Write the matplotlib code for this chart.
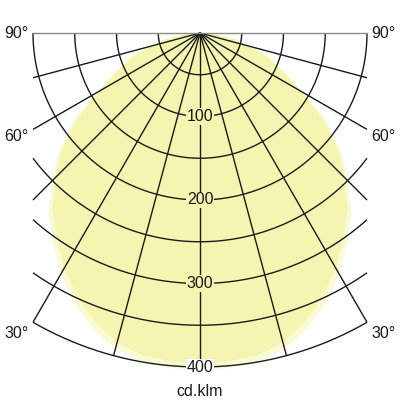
import numpy as np
import matplotlib
matplotlib.use("Agg")
import matplotlib.pyplot as plt

# Data (cd/klm vs angle from nadir, symmetric)
angles_deg = [0, 5, 10, 15, 20, 25, 30, 35, 40, 45, 50, 55, 60, 65, 70, 75, 80, 85, 90]
intensity = [395, 395, 392, 384, 368, 349, 325, 300, 275, 244, 215, 180, 140, 110, 88, 62, 40, 20, 0]
radial_ticks = [100, 200, 300, 400]
grid_radii = [50, 100, 150, 200, 250, 300, 350, 400]
ray_angles = list(range(-90, 91, 15))
angle_labels = [90, 60, 30]
unit_label = "cd.klm"

R_MAX = 400
X_LIM = 200  # half-width of the grid clip
FILL = "#f5f5b2"
HALO = "#fafad4"
LINE = "#1a1a1a"

plt.rcParams['font.family'] = ['Liberation Sans', 'DejaVu Sans']

fig = plt.figure(figsize=(4, 4), dpi=100)
ax = fig.add_axes([0, 0, 1, 1])
scale = 0.835  # px per unit
ax.set_xlim(-200 / scale, 200 / scale)
ax.set_ylim(-(400 - 33) / scale, 33 / scale)
ax.set_aspect('equal')
ax.axis('off')

# Light distribution fill
th_half = np.radians(angles_deg)
th = np.concatenate([-th_half[::-1], th_half[1:]])
rr = np.concatenate([np.array(intensity)[::-1], np.array(intensity)[1:]])
xs = rr * np.sin(th)
ys = -rr * np.cos(th)
ax.fill(xs * 1.025, ys * 1.02, color=HALO, lw=0, zorder=1)
ax.fill(xs, ys, color=FILL, lw=0, zorder=2)

# Arcs
for r in grid_radii:
    lim = 90.0 if r <= X_LIM else np.degrees(np.arcsin(X_LIM / r))
    t = np.radians(np.linspace(-lim, lim, 400))
    ax.plot(r * np.sin(t), -r * np.cos(t), color=LINE, lw=1.0, zorder=3,
            solid_capstyle='butt')

# Rays
for a in ray_angles:
    t = np.radians(a)
    if abs(a) == 90:
        continue
    s = abs(np.sin(t))
    r_end = R_MAX if s < 1e-9 else min(R_MAX, X_LIM / s)
    ax.plot([0, r_end * np.sin(t)], [0, -r_end * np.cos(t)], color=LINE,
            lw=1.0, zorder=3, solid_capstyle='butt')
# top (90 deg) line
ax.plot([-X_LIM, X_LIM], [0, 0], color="#8a8a8a", lw=1.0, zorder=3)

# Radial labels
for r in radial_ticks:
    bg = FILL if r < intensity[0] else "white"
    ax.text(0, -r, str(r), ha='center', va='center', fontsize=11.5,
            color="#1a1a1a", zorder=5,
            bbox=dict(facecolor=bg, edgecolor='none', pad=0.5))

# Angle labels
for a in angle_labels:
    t = np.radians(a)
    s = np.sin(t)
    r_end = min(R_MAX, X_LIM / s)
    y_end = -r_end * np.cos(t)
    yoff = 0 if a == 90 else (-9 if a == 60 else -13)
    ax.text(-X_LIM - 5, y_end + yoff, f"{a}°", ha='right', va='center',
            fontsize=11.5, color="#1a1a1a")
    ax.text(X_LIM + 5, y_end + yoff, f"{a}°", ha='left', va='center',
            fontsize=11.5, color="#1a1a1a")

ax.text(0, -R_MAX - 29, unit_label, ha='center', va='center', fontsize=11.5,
        color="#1a1a1a")

fig.savefig("out.png", dpi=100)
